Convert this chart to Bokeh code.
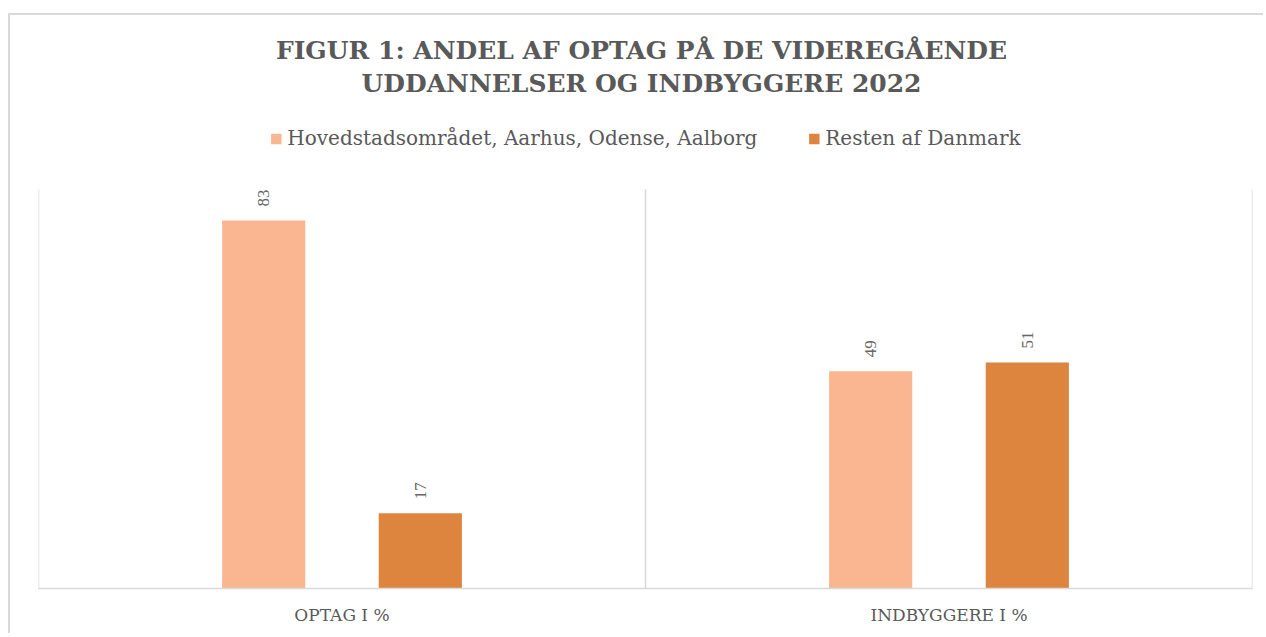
import math
from bokeh.plotting import figure
from bokeh.models import (FactorRange, Range1d, LabelSet, ColumnDataSource,
                          Legend, LegendItem, Label)
from bokeh.transform import dodge
from bokeh.embed import file_html
from bokeh.resources import INLINE

categories = ["OPTAG I %", "INDBYGGERE I %"]
series_names = ["Hovedstadsområdet, Aarhus, Odense, Aalborg", "Resten af Danmark"]
storby = [83, 49]
resten = [17, 51]
colors = ["#F9B691", "#DD843E"]
title_lines = ["FIGUR 1: ANDEL AF OPTAG PÅ DE VIDEREGÅENDE",
               "UDDANNELSER OG INDBYGGERE 2022"]
y_max = 90

source = ColumnDataSource(dict(
    cat=categories,
    storby=storby,
    resten=resten,
    storby_lbl=[str(v) for v in storby],
    resten_lbl=[str(v) for v in resten],
))

GRAY = "#595959"
LINE = "#D9D9D9"
SERIF = "DejaVu Serif"

PLOT_PX = 399          # height of the value area
FRAME_H = 572          # frame incl. title and legend strip
p = figure(x_range=FactorRange(*categories, range_padding=0),
           y_range=Range1d(0, y_max * FRAME_H / PLOT_PX),
           frame_width=1214, frame_height=FRAME_H,
           output_backend="svg", toolbar_location=None, title=None,
           min_border_left=28, min_border_right=11,
           min_border_top=1, min_border_bottom=45)
p.styles = {"margin-left": "8px", "margin-top": "13px",
            "border-left": "2px solid #D9D9D9", "border-top": "2px solid #D9D9D9"}

# frame lines (left, category separator, right)
bounds = list(range(len(categories) + 1))
p.segment(x0=bounds, y0=[0] * len(bounds), x1=bounds, y1=[y_max] * len(bounds),
          line_color=LINE, line_width=1.5)

off = 0.129
bw = 0.137
r1 = p.vbar(x=dodge('cat', -off, range=p.x_range), top='storby', width=bw,
            source=source, fill_color=colors[0], line_color=None)
r2 = p.vbar(x=dodge('cat', off, range=p.x_range), top='resten', width=bw,
            source=source, fill_color=colors[1], line_color=None)

for col, o in (("storby", -off), ("resten", off)):
    ls = LabelSet(x=dodge('cat', o, range=p.x_range), y=col, text=col + "_lbl",
                  source=source, angle=math.pi / 2, text_align="left",
                  text_baseline="middle", y_offset=14,
                  text_font="Liberation Sans", text_font_size="17px",
                  text_color="#666666")
    p.add_layout(ls)

p.xgrid.visible = False
p.ygrid.visible = False
p.yaxis.visible = False
p.outline_line_color = None
p.xaxis.axis_line_color = LINE
p.xaxis.axis_line_width = 1.5
p.xaxis.major_tick_line_color = None
p.xaxis.minor_tick_line_color = None
p.xaxis.major_label_text_font = SERIF
p.xaxis.major_label_text_font_size = "17px"
p.xaxis.major_label_text_color = GRAY
p.xaxis.major_label_standoff = 10

legend = Legend(items=[LegendItem(label=series_names[0], renderers=[r1]),
                       LegendItem(label=series_names[1], renderers=[r2])],
                orientation="horizontal", location="top_center",
                border_line_color=None, background_fill_alpha=0,
                glyph_width=13, glyph_height=13, label_standoff=5, spacing=50,
                label_text_font=SERIF, label_text_font_size="20px",
                label_text_color=GRAY, padding=0, margin=110)
p.add_layout(legend, "center")

# two-line chart title, placed above the value area
for line, dy in zip(title_lines, (139, 106)):
    p.add_layout(Label(x=len(categories) / 2, y=y_max, y_offset=dy, x_offset=-4,
                       text=line, text_align="center", text_baseline="middle",
                       text_font=SERIF, text_font_size="25px",
                       text_font_style="bold", text_color=GRAY))

open("out.html", "w").write(file_html(p, INLINE))
